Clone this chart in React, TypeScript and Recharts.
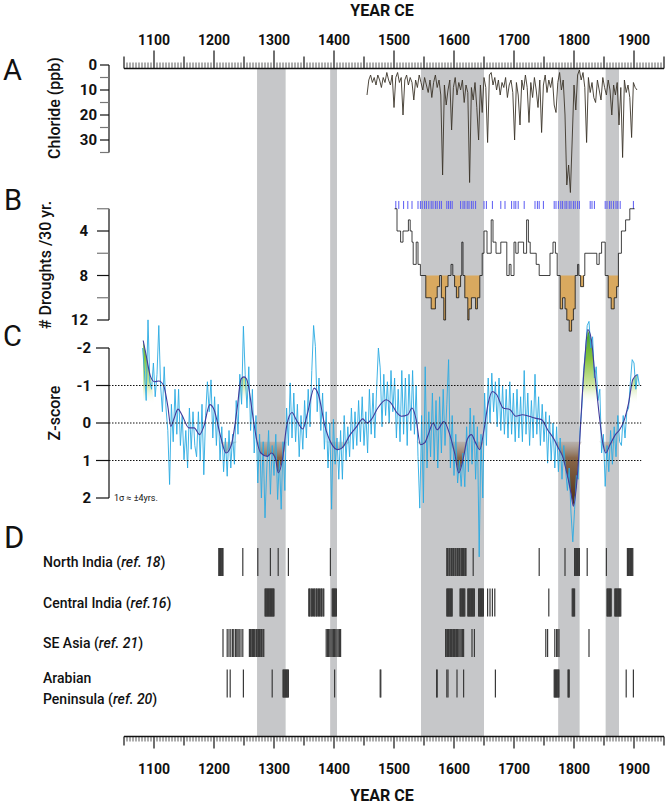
import React from "react";
import {
  ComposedChart,
  ScatterChart,
  Scatter,
  Line,
  Area,
  XAxis,
  YAxis,
  ReferenceLine,
} from "recharts";

const FONT = "Roboto, 'Noto Sans', sans-serif";

// shaded drought intervals (years CE)
const bandStarts = [1272, 1394, 1545, 1774, 1853];
const bandEnds = [1319, 1405, 1650, 1809, 1875];

const centuryLabels = [1100, 1200, 1300, 1400, 1500, 1600, 1700, 1800, 1900];

// A: ice-core chloride (ppb), one value every 3 years from 1455
const chlorideStart = 1455;
const chlorideStep = 3;
const chloride = [
  12, 6, 4, 7, 5, 8, 4, 6, 9, 5, 7, 3, 6, 8, 4, 17, 5, 3, 7, 5,
  20, 6, 4, 8, 5, 7, 14, 6, 9, 4, 7, 10, 5, 8, 11, 6, 13, 7, 4, 9,
  6, 12, 44, 8, 16, 10, 6, 26, 9, 5, 12, 7, 10, 6, 15, 8, 11, 47, 9, 14,
  7, 17, 30, 8, 19, 5, 9, 31, 4, 3, 8, 5, 10, 6, 12, 7, 9, 5, 13, 8,
  6, 11, 30, 7, 12, 24, 6, 10, 4, 9, 23, 7, 13, 5, 10, 17, 6, 27, 8, 4,
  11, 6, 9, 5, 16, 19, 7, 3, 10, 6, 20, 48, 40, 51, 30, 8, 18, 4, 2, 6,
  3, 9, 31, 5, 11, 7, 13, 15, 6, 10, 14, 5, 9, 12, 6, 10, 20, 8, 12, 7,
  24, 9, 37, 6, 11, 8, 13, 29, 7, 9, 10,
];

// B: droughts per 30 yr (step changes)
const droughtStepYears = [
  1501, 1505, 1511, 1515, 1524, 1527, 1530, 1532, 1537, 1540, 1544, 1553, 1562, 1569, 1572,
  1576, 1579, 1583, 1586, 1590, 1595, 1598, 1601, 1604, 1608, 1611, 1613, 1615, 1618, 1623,
  1625, 1629, 1636, 1639, 1643, 1647, 1650, 1655, 1662, 1665, 1670, 1678, 1688, 1692, 1695,
  1700, 1703, 1707, 1716, 1721, 1724, 1727, 1737, 1742, 1760, 1765, 1769, 1772, 1777, 1781,
  1785, 1788, 1792, 1796, 1799, 1802, 1806, 1808, 1811, 1816, 1818, 1838, 1842, 1846, 1852,
  1857, 1862, 1867, 1871, 1874, 1879, 1883, 1886, 1893, 1901,
];
const droughtStepCounts = [
  2, 4, 5, 4, 3, 4, 5, 7, 5, 7, 8, 10, 11, 10, 9,
  8, 10, 12, 9, 8, 7, 8, 9, 10, 9, 8, 5, 8, 10, 12,
  11, 10, 11, 10, 8, 6, 4, 6, 3, 5, 6, 5, 8, 7, 8,
  5, 6, 5, 6, 3, 5, 6, 7, 8, 6, 5, 6, 8, 11, 10,
  11, 12, 13, 12, 11, 8, 7, 8, 9, 8, 6, 7, 6, 5, 8,
  10, 11, 10, 9, 6, 4, 4, 3, 2, 2,
];
// B: individual drought years (blue marks)
const droughtYears = [
  1503, 1508, 1516, 1523, 1530, 1540, 1544, 1547, 1551, 1554, 1558, 1562, 1565, 1569, 1572,
  1576, 1579, 1588, 1591, 1594, 1597, 1611, 1615, 1618, 1622, 1625, 1629, 1632, 1636, 1650,
  1654, 1664, 1678, 1685, 1696, 1700, 1703, 1707, 1717, 1735, 1739, 1742, 1749, 1767, 1770,
  1774, 1778, 1781, 1785, 1788, 1792, 1795, 1799, 1802, 1806, 1809, 1827, 1830, 1834, 1852,
  1855, 1859, 1862, 1866, 1870, 1873, 1877, 1899,
];

// C: z-score, one value every 3 years from 1081
const zStart = 1081;
const zStep = 3;
const zAnnual = [
  -2.0, -1.4, -0.6, -2.75, -1.1, -0.9, -1.6, -0.7, -1.3, -2.6,
  -1.0, -0.3, -1.5, -0.4, 0.2, 1.64, -0.5, 0.5, -0.9, 0.3,
  -0.9, 0.6, -0.2, 0.98, 0.2, 1.2, -0.4, 0.7, -0.3, 0.6,
  0.9, -0.3, 1.0, -0.5, 1.38, -0.2, -1.1, -0.3, -1.15, 0.4,
  -0.7, 0.6, -0.5, 1.0, 0.1, 1.3, 0.4, 1.42, 0.2, 1.2,
  0.3, 1.1, -0.6, 0.3, -1.3, -0.5, -2.58, -1.3, -0.4, -1.5,
  0.2, -0.9, 0.8, -0.2, 1.6, 0.3, 2.0, 0.5, 2.53, 1.2,
  0.2, 1.9, 0.6, 1.4, 0.3, 2.04, 1.0, 2.3, 0.5, 1.8,
  -0.4, 0.6, -1.07, 0.4, -0.8, 0.5, -0.5, 0.9, -0.2, 0.7,
  -0.6, 0.4, -0.9, 0.1, -1.4, -2.6, -2.04, -0.3, -1.2, 0.2,
  -0.8, 0.7, -0.3, 1.2, 0.0, 2.3, -0.1, 1.1, 0.4, 1.5,
  0.2, 1.5, -0.2, 1.0, 0.1, 0.9, -0.4, 0.7, -0.3, 0.6,
  -0.6, 0.5, -0.7, 0.6, -0.3, 0.8, -0.9, 0.3, -0.8, 0.4,
  -0.9, -2.0, -1.47, 0.1, -1.3, -0.2, -1.1, 0.0, -1.4, -0.3,
  -1.2, 0.4, -0.9, 0.5, -1.4, 0.3, -1.2, 0.6, -1.3, 0.2,
  -1.4, 0.3, -1.0, 0.9, 2.27, -0.2, 2.13, -1.5, 1.2, -0.3,
  0.9, -0.8, 1.0, -0.6, 1.2, -0.7, 0.8, -0.9, 0.6, -0.5,
  -1.69, 1.2, -0.2, 1.4, 0.3, 1.6, 1.0, 1.69, 0.8, 1.7,
  0.1, 1.3, -0.4, 1.1, -0.2, 1.5, 0.1, 3.57, 0.3, 2.0,
  -0.8, 0.6, -1.2, 0.0, -1.33, -0.3, -1.1, 0.1, -1.2, 0.2,
  -1.0, 0.3, -0.9, 0.4, -1.1, 0.3, -0.8, 0.5, -0.9, 0.4,
  -0.7, 0.5, -1.4, 0.3, -0.8, 0.6, -0.6, 0.4, -1.3, 0.3,
  -0.7, 0.6, -0.5, 0.5, -0.3, 1.07, -0.2, 1.0, 0.0, 1.2,
  0.1, 1.3, 0.4, 1.5, 0.6, 1.24, 1.8, 1.2, 2.4, 3.17,
  2.3, 1.4, 1.5, 0.2, -0.4, -1.4, -1.9, -2.6, -2.71, -2.0,
  -2.3, -1.2, -1.5, -0.6, -0.9, 0.8, 0.3, 1.69, 0.6, 1.3,
  0.2, 1.1, 0.1, 0.9, -0.2, 0.5, 0.6, -0.2, 0.4, -0.3,
  -0.4, -1.1, -1.69, -1.6, -0.9, -1.3, -1.0,
];
// C: smoothed z-score
const zSmoothYears = [
  1082, 1087, 1094, 1101, 1108, 1116, 1123, 1128, 1133, 1140, 1147, 1158, 1167, 1176, 1183,
  1193, 1200, 1211, 1220, 1229, 1239, 1245, 1250, 1254, 1257, 1264, 1271, 1278, 1289, 1296,
  1303, 1307, 1314, 1321, 1330, 1337, 1348, 1356, 1367, 1374, 1385, 1395, 1406, 1413, 1427,
  1438, 1448, 1455, 1462, 1473, 1487, 1494, 1505, 1512, 1523, 1530, 1537, 1544, 1551, 1558,
  1565, 1572, 1583, 1593, 1601, 1608, 1615, 1622, 1629, 1636, 1643, 1650, 1657, 1664, 1671,
  1682, 1693, 1703, 1714, 1725, 1735, 1746, 1756, 1767, 1774, 1781, 1788, 1795, 1799, 1804,
  1809, 1813, 1818, 1823, 1829, 1834, 1841, 1848, 1853, 1860, 1869, 1876, 1884, 1891, 1898,
  1905,
];
const zSmoothValues = [
  -2.2, -1.8, -1.25, -1.1, -1.12, -1.0, -0.45, 0.09, -0.1, -0.37, -0.2, 0.13, 0.13, 0.31, 0.09,
  -0.49, -0.36, 0.36, 0.8, 0.58, -0.44, -1.17, -1.23, -1.18, -1.02, -0.27, 0.44, 0.8, 0.89, 0.8,
  0.98, 1.33, 0.98, 0.09, -0.28, -0.09, 0.16, -0.27, -0.93, -0.76, 0.09, 0.53, 0.71, 0.67, 0.31,
  0.09, -0.11, 0.0, -0.09, -0.4, -0.62, -0.55, -0.27, -0.18, -0.22, -0.4, -0.09, 0.58, 0.53, 0.27,
  0.0, 0.18, -0.04, 0.31, 0.8, 1.33, 0.98, 0.44, 0.31, 0.53, 0.71, 0.18, -0.53, -0.84, -0.76,
  -0.4, -0.36, -0.18, -0.22, -0.18, -0.13, -0.09, 0.18, 0.44, 0.67, 0.89, 1.33, 1.87, 2.22, 1.69,
  0.62, -0.53, -1.69, -2.49, -2.22, -1.42, -0.36, 0.53, 0.8, 0.58, 0.31, 0.18, -0.09, -0.53, -1.16,
  -1.29,
];

// D: documented drought events
const recordNames = ["North India", "Central India", "SE Asia", "Arabian\nPeninsula"];
const recordRefs = ["ref. 18", "ref.16", "ref. 21", "ref. 20"];
const northIndia = [
  1208, 1209, 1210, 1211, 1212, 1213, 1214, 1215, 1248, 1273, 1294, 1307, 1324, 1394,
  1588, 1589, 1590, 1592, 1593, 1595, 1596, 1597, 1599, 1600, 1602, 1603, 1605, 1606, 1607,
  1609, 1610, 1612, 1613, 1614, 1616, 1617, 1619, 1620, 1632, 1742, 1785, 1801, 1802, 1803,
  1804, 1806, 1807, 1808, 1809, 1822, 1854, 1889, 1890, 1891, 1892, 1893, 1894, 1895, 1896,
  1897, 1898,
];
const centralIndia = [
  1285, 1286, 1287, 1288, 1289, 1290, 1291, 1292, 1293, 1294, 1295, 1296, 1297, 1298, 1299,
  1300, 1358, 1359, 1360, 1362, 1363, 1364, 1366, 1367, 1368, 1370, 1371, 1372, 1374, 1375,
  1376, 1378, 1379, 1380, 1382, 1383, 1397, 1398, 1399, 1400, 1401, 1402, 1403, 1404, 1588,
  1589, 1590, 1591, 1592, 1593, 1594, 1595, 1596, 1597, 1610, 1611, 1612, 1613, 1614, 1615,
  1616, 1617, 1618, 1623, 1624, 1625, 1626, 1627, 1628, 1629, 1630, 1631, 1632, 1633, 1634,
  1641, 1642, 1643, 1644, 1645, 1646, 1647, 1648, 1649, 1656, 1660, 1664, 1668, 1758, 1797,
  1798, 1799, 1800, 1801, 1855, 1856, 1857, 1858, 1859, 1860, 1861, 1862, 1868, 1869, 1870,
  1871, 1872, 1873, 1874, 1875, 1876, 1877, 1878,
];
const seAsia = [
  1215, 1222, 1225, 1228, 1231, 1233, 1236, 1238, 1240, 1242, 1245, 1248, 1259, 1260, 1261,
  1263, 1264, 1266, 1267, 1268, 1270, 1271, 1273, 1274, 1276, 1277, 1279, 1280, 1282, 1283,
  1387, 1389, 1391, 1393, 1395, 1397, 1399, 1401, 1403, 1405, 1407, 1409, 1411, 1586, 1587,
  1589, 1591, 1592, 1594, 1596, 1598, 1599, 1601, 1603, 1604, 1606, 1608, 1610, 1612, 1614,
  1616, 1630, 1634, 1753, 1756, 1768, 1771, 1773, 1775, 1825,
];
const arabia = [
  1222, 1227, 1249, 1297, 1315, 1316, 1317, 1318, 1319, 1320, 1321, 1322, 1323, 1324, 1401,
  1477, 1478, 1571, 1572, 1588, 1590, 1605, 1616, 1669, 1767, 1768, 1769, 1770, 1771, 1772,
  1773, 1774, 1775, 1790, 1791, 1792, 1887, 1899,
];
const eventRows = [northIndia, centralIndia, seAsia, arabia];

// axis geometry
const TOP_AXIS_Y = 68.5;
const BOT_AXIS_Y = 736.5;
const PANEL_AXIS_X = 109;

const yearTicks: number[] = [];
for (let y = 1050; y <= 1950; y += 5) yearTicks.push(y);

const bandData = bandStarts.map((s, i) => [
  { year: s, span: [0, 1] },
  { year: bandEnds[i], span: [0, 1] },
]);
const chlorideData = chloride.map((v, i) => ({ year: chlorideStart + i * chlorideStep, ppb: v }));
const stepData = droughtStepYears.map((y, i) => ({ year: y, n: droughtStepCounts[i] }));
const orangeData = stepData.map((d) => ({ year: d.year, orange: [8, Math.max(8, d.n)] }));
const blueData = zAnnual.map((v, i) => ({ year: zStart + i * zStep, z: v }));
const smoothData = zSmoothYears.map((y, i) => ({ year: y, z: zSmoothValues[i] }));
const greenData = smoothData.map((d) => ({ year: d.year, g: d.z < -1.15 ? [d.z, -0.5] : [-0.5, -0.5] }));
const brownData = smoothData.map((d) => ({ year: d.year, b: [0.5, Math.max(0.5, d.z)] }));

const TopTick = (props: any) => {
  const { x, payload } = props;
  const v = payload.value;
  const len = v % 100 === 0 ? 18 : v % 50 === 0 ? 12 : 6;
  return (
    <g>
      <line x1={x} x2={x} y1={TOP_AXIS_Y} y2={TOP_AXIS_Y - len} stroke="#111" strokeWidth={v % 50 === 0 ? 1.2 : 0.7} />
      {centuryLabels.includes(v) && (
        <text x={x} y={45} textAnchor="middle" fontSize={14} fontWeight={700} fontFamily={FONT} fill="#111">
          {v}
        </text>
      )}
    </g>
  );
};

const BottomTick = (props: any) => {
  const { x, payload } = props;
  const v = payload.value;
  const len = v % 100 === 0 ? 12 : v % 50 === 0 ? 9 : 5;
  return (
    <g>
      <line x1={x} x2={x} y1={BOT_AXIS_Y} y2={BOT_AXIS_Y + len} stroke="#111" strokeWidth={v % 50 === 0 ? 1.2 : 0.7} />
      {centuryLabels.includes(v) && (
        <text x={x} y={774} textAnchor="middle" fontSize={14} fontWeight={700} fontFamily={FONT} fill="#111">
          {v}
        </text>
      )}
    </g>
  );
};

const makeYTick = (len: number, gap: number, labelled: number[]) => (props: any) => {
  const { y, payload } = props;
  const v = payload.value;
  const show = labelled.includes(v);
  return (
    <g>
      <line x1={PANEL_AXIS_X - len} x2={PANEL_AXIS_X} y1={y} y2={y} stroke={show ? "#111" : "#777"} strokeWidth={1.2} />
      {show && (
        <text x={PANEL_AXIS_X - len - gap} y={y} dy="0.36em" textAnchor="end" fontSize={15} fontWeight={700} fontFamily={FONT} fill="#111">
          {v}
        </text>
      )}
    </g>
  );
};

const RowTick = (props: any) => {
  const { y, payload } = props;
  const i = payload.value;
  const lines = recordNames[i].split("\n");
  const style = { fontSize: 14, fontWeight: 500, fontFamily: FONT, fill: "#111" };
  if (lines.length === 1) {
    return (
      <text x={43} y={y} dy="0.36em" {...style}>
        {lines[0]} (<tspan fontStyle="italic">{recordRefs[i]}</tspan>)
      </text>
    );
  }
  return (
    <g>
      <text x={43} y={y - 5.5} dy="0.36em" {...style}>{lines[0]}</text>
      <text x={43} y={y + 15.5} dy="0.36em" {...style}>
        {lines[1]} (<tspan fontStyle="italic">{recordRefs[i]}</tspan>)
      </text>
    </g>
  );
};

const EventMark = (props: any) => {
  const { cx, cy } = props;
  return <line x1={cx} x2={cx} y1={cy - 14} y2={cy + 14} stroke="#3a3a3a" strokeWidth={1.2} />;
};

const layer: React.CSSProperties = { position: "absolute", left: 0, top: 0 };

export default function App() {
  return (
    <div style={{ position: "absolute", left: 0, top: 0, width: 670, height: 805, background: "#fff" }}>
      {/* shaded intervals + time axes */}
      <div style={layer}>
        <ComposedChart width={670} height={805} margin={{ top: 0, right: 6, bottom: 0, left: 124 }} data={yearTicks.map((y) => ({ year: y }))}>
          <XAxis xAxisId="top" orientation="top" type="number" dataKey="year" domain={[1050, 1950]} ticks={yearTicks} interval={0}
            height={TOP_AXIS_Y} tickLine={false} axisLine={{ stroke: "#111", strokeWidth: 1.5 }} tick={TopTick} />
          <XAxis xAxisId="bot" orientation="bottom" type="number" dataKey="year" domain={[1050, 1950]} ticks={yearTicks} interval={0}
            height={805 - BOT_AXIS_Y} tickLine={false} axisLine={{ stroke: "#111", strokeWidth: 1.5 }} tick={BottomTick} />
          <YAxis hide type="number" domain={[0, 1]} />
          {bandData.map((d, i) => (
            <Area key={i} xAxisId="top" data={d} dataKey="span" type="linear" fill="#c6c7c9" fillOpacity={1} stroke="none" isAnimationActive={false} />
          ))}
          {bandData.map((d, i) => (
            <Area key={`b${i}`} xAxisId="bot" data={d} dataKey="span" type="linear" fill="#c6c7c9" fillOpacity={1} stroke="none" isAnimationActive={false} />
          ))}
        </ComposedChart>
      </div>

      {/* A: chloride */}
      <div style={layer}>
        <ComposedChart width={670} height={200} margin={{ top: 65, right: 6, bottom: 5, left: 49 }}>
          <XAxis hide type="number" dataKey="year" domain={[1025, 1950]} />
          <YAxis width={60} type="number" domain={[0, 52]} reversed ticks={[0, 5, 10, 15, 20, 25, 30, 35]} interval={0}
            axisLine={false} tickLine={false} tick={makeYTick(9, 3, [0, 10, 20, 30])} />
          <ReferenceLine segment={[{ x: 1025, y: 0 }, { x: 1025, y: 35 }]} stroke="#111" strokeWidth={1.2} ifOverflow="visible" />
          <Line data={chlorideData} dataKey="ppb" type="linear" stroke="#3b3429" strokeWidth={0.9} dot={false} isAnimationActive={false} />
        </ComposedChart>
      </div>

      {/* B: droughts per 30 yr */}
      <div style={layer}>
        <ComposedChart width={670} height={340} margin={{ top: 199.85, right: 6, bottom: 3.31, left: 49 }}>
          <XAxis hide type="number" dataKey="year" domain={[1025, 1950]} />
          <YAxis width={60} type="number" domain={[1.2, 13.5]} reversed ticks={[2, 4, 6, 8, 10, 12]} interval={0}
            axisLine={false} tickLine={false} tick={makeYTick(12, 9, [4, 8, 12])} />
          <ReferenceLine segment={[{ x: 1025, y: 2 }, { x: 1025, y: 12 }]} stroke="#111" strokeWidth={1.2} ifOverflow="visible" />
          {droughtYears.map((y) => (
            <ReferenceLine key={y} segment={[{ x: y, y: 1.3 }, { x: y, y: 2.02 }]} stroke="#5a5af2" strokeWidth={1} ifOverflow="visible" />
          ))}
          <Area data={orangeData} dataKey="orange" type="stepAfter" fill="#d9a95f" fillOpacity={1} stroke="none" isAnimationActive={false} />
          <Line data={stepData} dataKey="n" type="stepAfter" stroke="#111" strokeWidth={0.8} dot={false} isAnimationActive={false} />
        </ComposedChart>
      </div>

      {/* C: z-score */}
      <div style={layer}>
        <ComposedChart width={670} height={570} margin={{ top: 306.75, right: 6, bottom: 8.25, left: 49 }}>
          <defs>
            <linearGradient id="greenFade" gradientUnits="userSpaceOnUse" x1={0} y1={329} x2={0} y2={404}>
              <stop offset="0" stopColor="#3e9b2f" />
              <stop offset="0.4" stopColor="#86c441" />
              <stop offset="0.75" stopColor="#c4e08f" stopOpacity={0.8} />
              <stop offset="1" stopColor="#ffffff" stopOpacity={0} />
            </linearGradient>
            <linearGradient id="brownFade" gradientUnits="userSpaceOnUse" x1={0} y1={441.75} x2={0} y2={506}>
              <stop offset="0" stopColor="#9b8878" stopOpacity={0.35} />
              <stop offset="0.25" stopColor="#7d5634" stopOpacity={0.85} />
              <stop offset="1" stopColor="#4b2b12" stopOpacity={1} />
            </linearGradient>
          </defs>
          <XAxis hide type="number" dataKey="year" domain={[1025, 1950]} />
          <YAxis width={60} type="number" domain={[-3.1, 3.7]} reversed ticks={[-2, -1, 0, 1, 2]} interval={0}
            axisLine={false} tickLine={false} tick={makeYTick(13, 5, [-2, -1, 0, 1, 2])} />
          <ReferenceLine segment={[{ x: 1025, y: -2 }, { x: 1025, y: 2 }]} stroke="#111" strokeWidth={1.2} ifOverflow="visible" />
          <Area data={greenData} dataKey="g" type="linear" fill="url(#greenFade)" fillOpacity={1} stroke="none" isAnimationActive={false} />
          <Area data={brownData} dataKey="b" type="linear" fill="url(#brownFade)" fillOpacity={1} stroke="none" isAnimationActive={false} />
          <Line data={blueData} dataKey="z" type="linear" stroke="#2aaae2" strokeWidth={0.9} dot={false} isAnimationActive={false} />
          <Line data={smoothData} dataKey="z" type="monotone" stroke="#41399a" strokeWidth={1.1} dot={false} isAnimationActive={false} />
          {[-1, 0, 1].map((v) => (
            <ReferenceLine key={v} segment={[{ x: 1025, y: v }, { x: 1912, y: v }]} stroke="#111" strokeWidth={1.1} strokeDasharray="1.5 1.5" ifOverflow="visible" />
          ))}
        </ComposedChart>
      </div>

      {/* D: historical drought records */}
      <div style={layer}>
        <ScatterChart width={670} height={720} margin={{ top: 541.75, right: 6, bottom: 16.25, left: 43 }}>
          <XAxis hide type="number" dataKey="year" domain={[1050, 1950]} />
          <YAxis width={81} type="number" dataKey="row" domain={[-0.5, 3.5]} reversed ticks={[0, 1, 2, 3]} interval={0}
            axisLine={false} tickLine={false} tick={RowTick} />
          {eventRows.map((years, i) => (
            <Scatter key={i} data={years.map((y) => ({ year: y, row: i }))} shape={EventMark} isAnimationActive={false} />
          ))}
        </ScatterChart>
      </div>

      <svg width={670} height={805} style={{ ...layer, pointerEvents: "none" }} fontFamily={FONT} fill="#111">
        <text x={382} y={16} textAnchor="middle" fontSize={16} fontWeight={700}>YEAR CE</text>
        <text x={382} y={801} textAnchor="middle" fontSize={16} fontWeight={700}>YEAR CE</text>
        <text x={3} y={80} fontSize={29}>A</text>
        <text x={4} y={210} fontSize={29}>B</text>
        <text x={3} y={346} fontSize={29}>C</text>
        <text x={4} y={548} fontSize={31}>D</text>
        <text transform="translate(60,108) rotate(-90)" textAnchor="middle" fontSize={16} fontWeight={500}>Chloride (ppb)</text>
        <text transform="translate(51,265) rotate(-90)" textAnchor="middle" fontSize={16} fontWeight={500}># Droughts /30 yr.</text>
        <text transform="translate(60,413) rotate(-90)" textAnchor="middle" fontSize={16} fontWeight={500}>Z-score</text>
        <text x={114} y={501} fontSize={9}>1σ ≈ ±4yrs.</text>
      </svg>
    </div>
  );
}
